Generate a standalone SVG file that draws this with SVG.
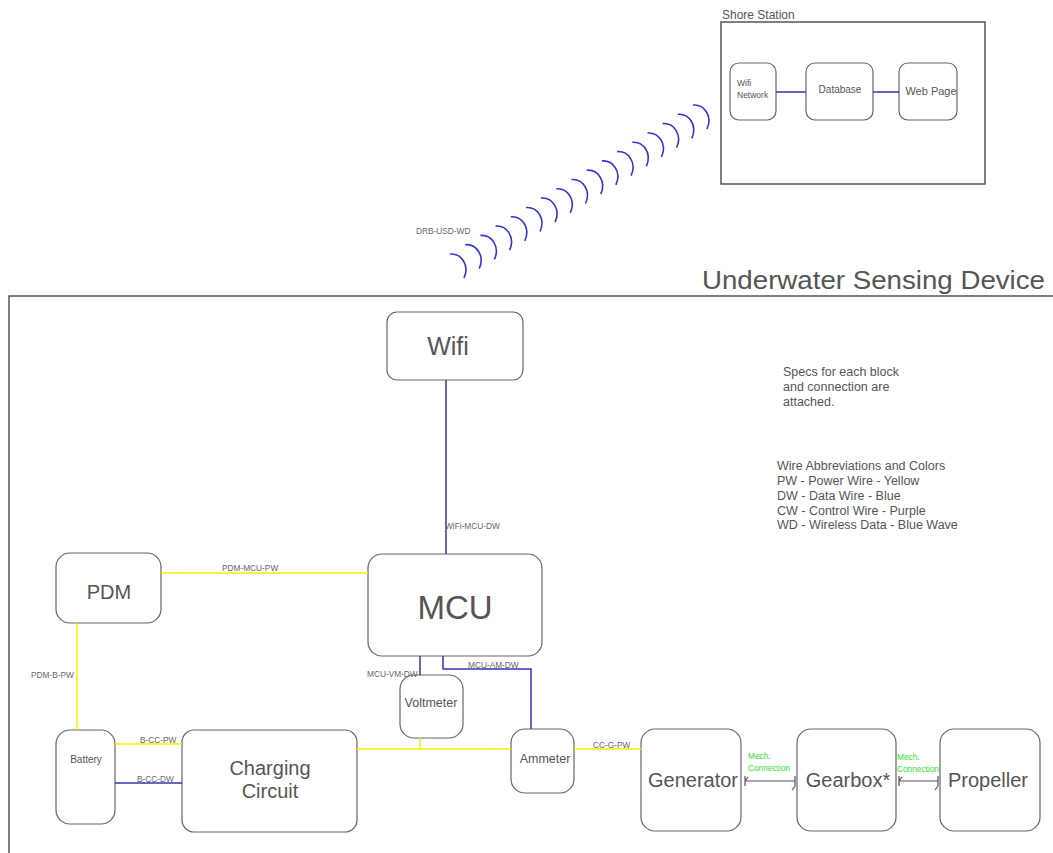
<svg xmlns="http://www.w3.org/2000/svg" xmlns:xlink="http://www.w3.org/1999/xlink" width="1053" height="853" viewBox="0 0 1053 853">
<style>
text{font-family:"Liberation Sans",Arial,sans-serif;fill:#555}
.node{fill:#fff;stroke:#666;stroke-width:1.2}
.frame{fill:none;stroke:#555;stroke-width:1.5}
.pw{stroke:#f2f200;stroke-width:1.5;fill:none}
.dw{stroke:#3535b5;stroke-width:1.5;fill:none}
.mech{stroke:#555;stroke-width:1.2;fill:none}
.lbl{font-size:8.3px;fill:#666}
.grn{font-size:8.3px;fill:#33e033}
.wave{stroke:#3535d5;stroke-width:1.6;fill:none}
.c{text-anchor:middle}
.note{font-size:12.5px;fill:#555}
</style>
<defs>
<path id="arc" d="M0,0 c11,-1 20,11 14,24"/>
</defs>
<rect width="1053" height="853" fill="#fff"/>

<!-- Shore station -->
<g id="shore-station">
<text x="722" y="19" font-size="12">Shore Station</text>
<rect class="frame" x="721" y="22" width="264" height="162"/>
</g>
<g id="wifi-network"><rect class="node" x="730" y="63" width="46" height="57" rx="9"/><text x="737" y="86" font-size="8.5">Wifi</text><text x="737" y="98" font-size="8.5">Network</text></g>
<g id="database"><rect class="node" x="806" y="63" width="67" height="57" rx="9"/><text class="c" x="840" y="93" font-size="10">Database</text></g>
<g id="web-page"><rect class="node" x="899" y="63" width="58" height="57" rx="9"/><text class="c" x="931" y="95" font-size="11">Web Page</text></g>

<!-- Underwater device -->
<g id="underwater-device">
<text x="1045" y="289" font-size="26" text-anchor="end" textLength="343" lengthAdjust="spacingAndGlyphs">Underwater Sensing Device</text>
<path class="frame" d="M9,853 V296 H1053"/>
</g>

<g id="wifi"><rect class="node" x="387" y="312" width="136" height="68" rx="10"/><text class="c" x="448" y="355" font-size="25">Wifi</text></g>
<g id="mcu"><rect class="node" x="368" y="554" width="174" height="102" rx="14"/><text class="c" x="455" y="619" font-size="33">MCU</text></g>
<g id="pdm"><rect class="node" x="56" y="553" width="105" height="70" rx="14"/><text class="c" x="109" y="599" font-size="20">PDM</text></g>
<g id="battery"><rect class="node" x="56" y="730" width="59" height="94" rx="14"/><text class="c" x="86" y="763" font-size="10">Battery</text></g>
<g id="charging-circuit"><rect class="node" x="182" y="730" width="175" height="102" rx="12"/><text class="c" x="270" y="775" font-size="20">Charging</text><text class="c" x="270" y="798" font-size="20">Circuit</text></g>
<g id="voltmeter"><rect class="node" x="400" y="675" width="63" height="63" rx="14"/><text class="c" x="431" y="707" font-size="12.5">Voltmeter</text></g>
<g id="ammeter"><rect class="node" x="511" y="729" width="63" height="64" rx="14"/><text class="c" x="545" y="763" font-size="12.5">Ammeter</text></g>
<g id="generator"><rect class="node" x="641" y="729" width="100" height="102" rx="14"/><text class="c" x="693" y="787" font-size="20">Generator</text></g>
<g id="gearbox"><rect class="node" x="797" y="729" width="99" height="102" rx="14"/><text class="c" x="848" y="787" font-size="20">Gearbox*</text></g>
<g id="propeller"><rect class="node" x="940" y="729" width="100" height="102" rx="14"/><text class="c" x="988" y="787" font-size="20">Propeller</text></g>

<g id="notes">
<text class="note" x="783" y="376">Specs for each block</text>
<text class="note" x="783" y="391">and connection are</text>
<text class="note" x="783" y="406">attached.</text>
<text class="note" x="777" y="470">Wire Abbreviations and Colors</text>
<text class="note" x="777" y="485">PW - Power Wire - Yellow</text>
<text class="note" x="777" y="500">DW - Data Wire - Blue</text>
<text class="note" x="777" y="515">CW - Control Wire - Purple</text>
<text class="note" x="777" y="529">WD - Wireless Data - Blue Wave</text>
</g>

<g id="connectors">
<path class="dw" d="M776,92 H806 M873,92 H899"/>
<path class="dw" d="M446,380 V554"/>
<path class="pw" d="M161,573 H368"/>
<path class="pw" d="M77,623 V730"/>
<path class="pw" d="M115,744 H182"/>
<path class="dw" d="M115,783 H182"/>
<path class="pw" d="M357,749 H511 M420,738 V749"/>
<path class="dw" d="M420,656 V675"/>
<path class="dw" d="M443,656 V669 H531 V729"/>
<path class="pw" d="M574,749 H641"/>
<path class="mech" d="M745,781 H795 M745,776 V786 M745,781 L748,777 M795,776 V786 M795,786 L792,790"/>
<path class="mech" d="M899,781 H938 M899,776 V786 M899,781 L902,777 M938,776 V786 M938,786 L935,790"/>
<g class="wave">
<use xlink:href="#arc" x="450" y="254"/>
<use xlink:href="#arc" x="465.2" y="244.7"/>
<use xlink:href="#arc" x="480.4" y="235.4"/>
<use xlink:href="#arc" x="495.6" y="226.1"/>
<use xlink:href="#arc" x="510.8" y="216.8"/>
<use xlink:href="#arc" x="526" y="207.5"/>
<use xlink:href="#arc" x="541.1" y="198.1"/>
<use xlink:href="#arc" x="556.3" y="188.8"/>
<use xlink:href="#arc" x="571.5" y="179.5"/>
<use xlink:href="#arc" x="586.7" y="170.2"/>
<use xlink:href="#arc" x="601.9" y="160.9"/>
<use xlink:href="#arc" x="617.1" y="151.6"/>
<use xlink:href="#arc" x="632.3" y="142.3"/>
<use xlink:href="#arc" x="647.5" y="133"/>
<use xlink:href="#arc" x="662.6" y="123.6"/>
<use xlink:href="#arc" x="677.8" y="114.3"/>
<use xlink:href="#arc" x="693" y="105"/>
</g>
<text class="lbl" x="416" y="234">DRB-USD-WD</text>
<text class="lbl" x="445" y="529">WiFi-MCU-DW</text>
<text class="lbl" x="222" y="571">PDM-MCU-PW</text>
<text class="lbl" x="31" y="678">PDM-B-PW</text>
<text class="lbl" x="140" y="743">B-CC-PW</text>
<text class="lbl" x="137" y="782">B-CC-DW</text>
<text class="lbl" x="367" y="677">MCU-VM-DW</text>
<text class="lbl" x="468" y="668">MCU-AM-DW</text>
<text class="lbl" x="593" y="748">CC-G-PW</text>
<text class="grn" x="748" y="759">Mech.</text>
<text class="grn" x="748" y="771">Connection</text>
<text class="grn" x="897" y="760">Mech.</text>
<text class="grn" x="897" y="772">Connection</text>
</g>
</svg>
